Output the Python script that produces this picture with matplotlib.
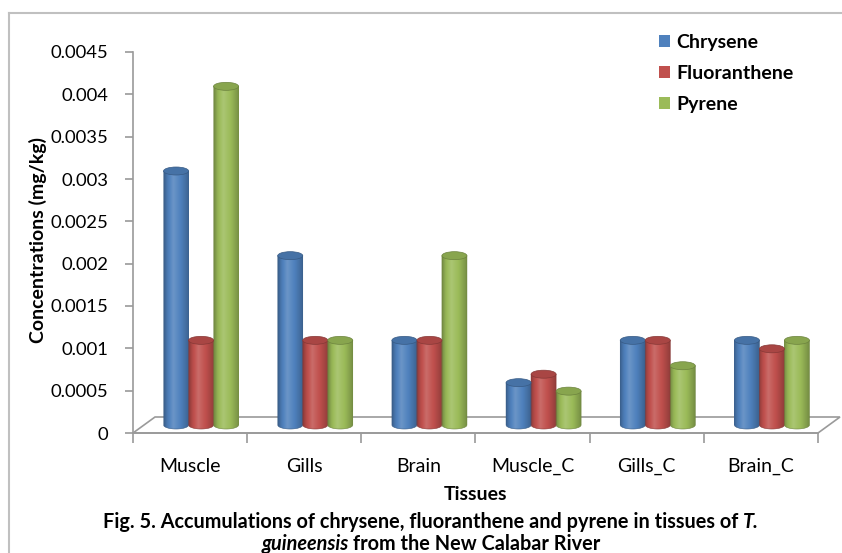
import numpy as np
import matplotlib
matplotlib.use("Agg")
import matplotlib.pyplot as plt
from matplotlib.patches import Ellipse, PathPatch, Polygon
from matplotlib.path import Path
from matplotlib.transforms import offset_copy
from matplotlib.lines import Line2D
from matplotlib.colors import to_rgb

plt.rcParams["font.family"] = ["Lato", "DejaVu Sans"]

# --- data ---
tissues = ["Muscle", "Gills", "Brain", "Muscle_C", "Gills_C", "Brain_C"]
chrysene = [0.003, 0.002, 0.001, 0.0005, 0.001, 0.001]
fluoranthene = [0.001, 0.001, 0.001, 0.0006, 0.001, 0.0009]
pyrene = [0.004, 0.001, 0.002, 0.0004, 0.0007, 0.001]
series = ["Chrysene", "Fluoranthene", "Pyrene"]
colours = ["#4F81BD", "#C0504D", "#9BBB59"]
yticks = [0, 0.0005, 0.001, 0.0015, 0.002, 0.0025, 0.003, 0.0035, 0.004, 0.0045]
ytick_labels = ["0", "0.0005", "0.001", "0.0015", "0.002", "0.0025",
                "0.003", "0.0035", "0.004", "0.0045"]

W, H = 842, 553
fig = plt.figure(figsize=(W / 100, H / 100), dpi=100)
ax = fig.add_axes([133 / W, 120 / H, 685 / W, 381 / H])
ax.set_xlim(-0.5, 5.5)
ax.set_ylim(0, 0.0045)
ax.patch.set_alpha(0)

grey = "#9a9a9a"
for s in ["top", "right"]:
    ax.spines[s].set_visible(False)
for s in ["left", "bottom"]:
    ax.spines[s].set_color(grey)
    ax.spines[s].set_linewidth(1.2)

# floor of the pseudo-3D plot (depth offset in pixels)
dx, dy = 22, 16
def back(pt):
    p = ax.transData.transform(pt) + np.array([dx, dy])
    return ax.transData.inverted().transform(p)
fl = [(-0.5, 0), (5.5, 0), tuple(back((5.5, 0))), tuple(back((-0.5, 0)))]
ax.add_patch(Polygon(fl, closed=True, facecolor="white", edgecolor=grey,
                     lw=1.2, clip_on=False, zorder=1))

# bars: drawn half way into the depth
bt = offset_copy(ax.transData, fig=fig, x=dx / 2, y=dy / 2, units="dots")
x = np.arange(len(tissues))
w = 0.219
eh = 0.0045 * 8 / 381  # ellipse height of the cylinder caps


def shade(base, f):
    base = np.array(base)
    if f < 1:
        return base * f
    return base + (1 - base) * (f - 1)


stops_t = [0, 0.12, 0.36, 0.7, 1.0]
stops_f = [0.74, 0.93, 1.16, 0.96, 0.74]
tt = np.linspace(0, 1, 64)

handles = []
for i, (vals, col, name) in enumerate(zip([chrysene, fluoranthene, pyrene], colours, series)):
    bars = ax.bar(x + (i - 1) * w, vals, w, color=col, label=name,
                  transform=bt, zorder=2, clip_on=False)
    handles.append(bars)
    base = to_rgb(col)
    grad = np.array([[shade(base, np.interp(t, stops_t, stops_f)) for t in tt]])
    for r in bars:
        x0, bw, h = r.get_x(), r.get_width(), r.get_height()
        a = np.linspace(np.pi, 2 * np.pi, 40)
        ex = x0 + bw / 2 + bw / 2 * np.cos(a)
        ey = eh / 2 * np.sin(a)
        verts = [(x0, h)] + list(zip(ex, ey)) + [(x0 + bw, h), (x0, h)]
        body = PathPatch(Path(verts), transform=bt, facecolor="none",
                         edgecolor=shade(base, 0.7), lw=0.4, zorder=4, clip_on=False)
        ax.add_patch(body)
        im = ax.imshow(grad, extent=(x0, x0 + bw, -eh / 2, h), aspect="auto",
                       transform=bt, zorder=3, interpolation="bilinear")
        im.set_clip_path(body)
        ax.add_patch(Ellipse((x0 + bw / 2, h), bw, eh, transform=bt,
                             facecolor=shade(base, 0.88), edgecolor=shade(base, 0.7),
                             lw=0.5, zorder=5, clip_on=False))

ax.set_xlim(-0.5, 5.5)
ax.set_ylim(0, 0.0045)
ax.set_aspect("auto")

ax.set_yticks(yticks, ytick_labels, fontsize=13.3)
ax.tick_params(axis="y", length=6, width=1.2, color=grey, pad=12)
ax.set_xticks(np.arange(-0.5, 6, 1), [""] * 7)
ax.tick_params(axis="x", which="major", length=7, width=1.2, color=grey)
ax.set_xticks(x, tissues, minor=True, fontsize=14)
ax.tick_params(axis="x", which="minor", length=0, pad=18)

fig.text(38 / W, 1 - 240 / H, "Concentrations (mg/kg)", rotation=90,
         ha="center", va="center", fontsize=14, fontweight="bold")
fig.text(476 / W, 1 - 494 / H, "Tissues", ha="center", va="center",
         fontsize=14, fontweight="bold")

ax.legend(handles, series, loc="upper left", bbox_to_anchor=(659 / W, 1 - 34 / H),
          bbox_transform=fig.transFigure, frameon=False,
          prop=dict(weight="bold", size=14), handlelength=0.55, handleheight=0.55,
          handletextpad=0.35, labelspacing=0.72, borderpad=0, borderaxespad=0)

# outer frame of the chart area
fig.add_artist(Line2D([8.5 / W, 8.5 / W], [0, 1 - 12.5 / H], color="#c0c0c0", lw=1.5))
fig.add_artist(Line2D([8.5 / W, 1], [1 - 12.5 / H, 1 - 12.5 / H], color="#c0c0c0", lw=1.5))

# caption with mixed bold / bold-italic pieces
fig.canvas.draw()
rend = fig.canvas.get_renderer()
cap_size = 14.3


def width_of(s, st="normal"):
    t = fig.text(0, 0, s, fontsize=cap_size, fontweight="bold", fontstyle=st)
    wd = t.get_window_extent(rend).width
    t.remove()
    return wd


space = width_of("x x") - width_of("xx")


def caption_line(parts, y_px, cx_px=431):
    arts = [fig.text(0, 1 - y_px / H, s, fontsize=cap_size, fontweight="bold",
                     fontstyle=st, va="center") for s, st in parts]
    widths = [a.get_window_extent(rend).width for a in arts]
    gaps = [space * (0.8 if st == "italic" else 1.0) for s, st in parts[:-1]]
    total = sum(widths) + sum(gaps)
    xx = cx_px - total / 2
    for k, (a, wd) in enumerate(zip(arts, widths)):
        a.set_x(xx / W)
        xx += wd + (gaps[k] if k < len(gaps) else 0)


caption_line([("Fig. 5. Accumulations of chrysene, fluoranthene and pyrene in tissues of", "normal"),
              ("T.", "italic")], 522)
caption_line([("guineensis", "italic"), ("from the New Calabar River", "normal")], 544)

fig.savefig("out.png", dpi=100)
